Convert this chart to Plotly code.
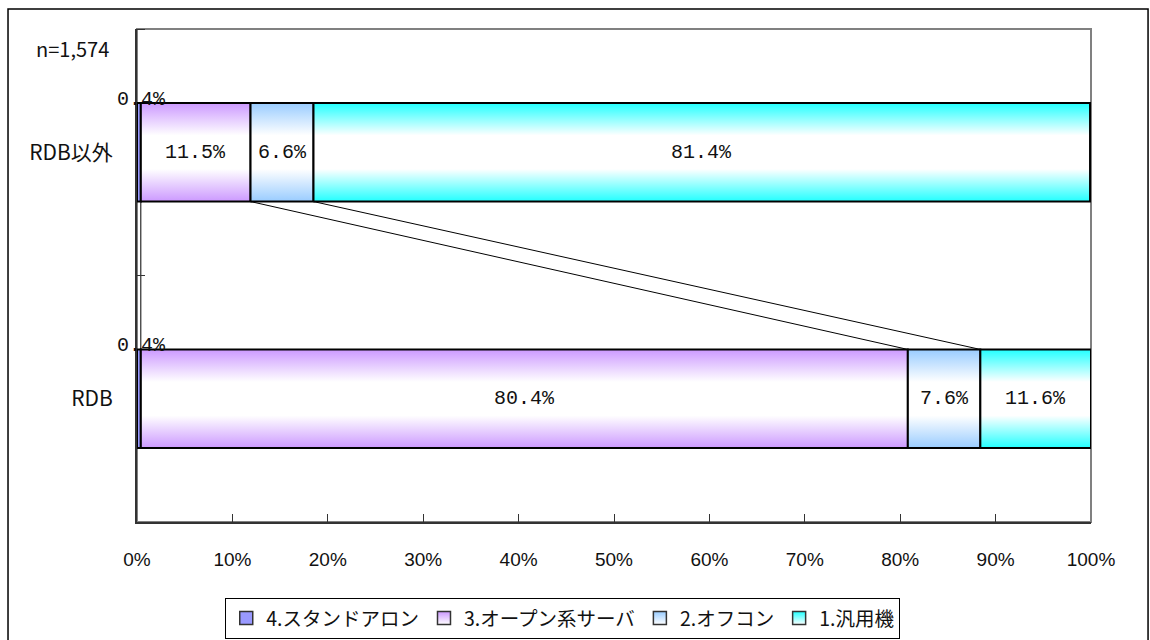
import plotly.graph_objects as go

# Share of each system type, per data category (percent)
categories = ["RDB", "RDB以外"]
series_names = ["4.スタンドアロン", "3.オープン系サーバ", "2.オフコン", "1.汎用機"]
standalone = [0.4, 0.4]
open_server = [80.4, 11.5]
office_computer = [7.6, 6.6]
mainframe = [11.6, 81.4]
series_values = [standalone, open_server, office_computer, mainframe]
series_colors = ["#9999FF", "#CC99FF", "#99CCFF", "#22FFFF"]
series_gradient = [False, True, True, True]
sample_label = "n=1,574"
x_tick_values = list(range(0, 101, 10))

BAR_HALF = 0.2  # half bar thickness in category units
LABEL_FONT = dict(family="Liberation Mono, DejaVu Sans Mono, monospace", size=20, color="#111111")
JP_FONT = "Noto Sans CJK JP, Noto Sans, sans-serif"

fig = go.Figure()

# stacked segments drawn as polygons so each can carry a vertical gradient
cum_edges = []  # right edge of every segment, per series, per category
left = [0.0 for _ in categories]
for name, vals, color, grad in zip(series_names, series_values, series_colors, series_gradient):
    edges = []
    for ci, v in enumerate(vals):
        x0, x1 = left[ci], left[ci] + v
        y0, y1 = ci - BAR_HALF, ci + BAR_HALF
        trace = dict(
            x=[x0, x1, x1, x0, x0],
            y=[y0, y0, y1, y1, y0],
            mode="lines",
            fill="toself",
            line=dict(color="#000000", width=2),
            showlegend=False,
            hoverinfo="skip",
        )
        if grad:
            trace["fillgradient"] = dict(
                type="vertical",
                colorscale=[[0, color], [0.33, "#FFFFFF"], [0.67, "#FFFFFF"], [1, color]],
                start=y0,
                stop=y1,
            )
        else:
            trace["fillcolor"] = color
        fig.add_trace(go.Scatter(**trace))

        # value label: tiny segments get their label just above the bar
        if v < 2:
            fig.add_annotation(x=(x0 + x1) / 2, y=y1, text=f"{v}%", showarrow=False,
                               xanchor="center", yanchor="bottom", xshift=3, yshift=-10,
                               font=LABEL_FONT)
        else:
            fig.add_annotation(x=(x0 + x1) / 2, y=ci, text=f"{v}%", showarrow=False,
                               font=LABEL_FONT)
        left[ci] = x1
        edges.append(x1)
    cum_edges.append(edges)

# series lines joining segment boundaries between the two bars
for edges in cum_edges[:-1]:
    fig.add_trace(go.Scatter(
        x=[edges[1], edges[0]],
        y=[1 - BAR_HALF, 0 + BAR_HALF],
        mode="lines",
        line=dict(color="#000000", width=1),
        showlegend=False,
        hoverinfo="skip",
    ))

# legend entries
for name, color, grad in zip(series_names, series_colors, series_gradient):
    marker = dict(symbol="square", size=13, color=color, line=dict(color="#333333", width=1.5))
    if grad:
        marker["gradient"] = dict(type="vertical", color="#FFFFFF")
    fig.add_trace(go.Scatter(x=[None], y=[None], mode="markers", name=name, marker=marker))

# plot-area frame (top/right in gray) and the outer chart border
fig.add_shape(type="rect", xref="paper", yref="paper", x0=0, x1=1, y0=0, y1=1,
              line=dict(color="#808080", width=2), layer="below")
fig.add_shape(type="rect", xref="paper", yref="paper", x0=-0.1352, x1=1.0598, y0=-0.4, y1=1.0406,
              line=dict(color="#000000", width=1.5), layer="below")

fig.add_annotation(xref="paper", yref="paper", x=-0.108, y=0.96, text=sample_label,
                   showarrow=False, xanchor="left", yanchor="middle",
                   font=dict(family=JP_FONT, size=20, color="#111111"))

fig.update_layout(
    width=1150,
    height=640,
    margin=dict(l=137, r=59, t=29, b=118, autoexpand=False),
    paper_bgcolor="#FFFFFF",
    plot_bgcolor="#FFFFFF",
    showlegend=True,
    legend=dict(
        orientation="h",
        x=0.0925, xanchor="left",
        y=-0.154, yanchor="top",
        bordercolor="#000000", borderwidth=1,
        bgcolor="#FFFFFF",
        font=dict(family=JP_FONT, size=19.5, color="#111111"),
        itemwidth=30,
        traceorder="normal",
    ),
    xaxis=dict(
        range=[0, 100],
        tickmode="array",
        tickvals=x_tick_values,
        ticktext=[f"{t}%" for t in x_tick_values],
        ticks="inside", ticklen=8, tickwidth=1, tickcolor="#333333",
        showline=True, linecolor="#333333", linewidth=2,
        showgrid=False, zeroline=False,
        automargin=False,
        ticklabelstandoff=19,
        tickfont=dict(family="Liberation Sans Narrow, Arial Narrow, Liberation Sans, sans-serif",
                      size=19, color="#111111"),
        fixedrange=True,
    ),
    yaxis=dict(
        range=[-0.5, 1.5],
        tickmode="array",
        tickvals=[0, 1],
        ticktext=categories,
        ticks="",
        minor=dict(tickmode="array", tickvals=[-0.5, 0.5, 1.5], ticks="inside",
                   ticklen=8, tickcolor="#333333", tickwidth=1),
        showline=True, linecolor="#333333", linewidth=2,
        showgrid=False, zeroline=False,
        automargin=False,
        ticklabelstandoff=18,
        tickfont=dict(family=JP_FONT, size=21, color="#111111"),
        fixedrange=True,
    ),
)

fig.write_html("out.html")
